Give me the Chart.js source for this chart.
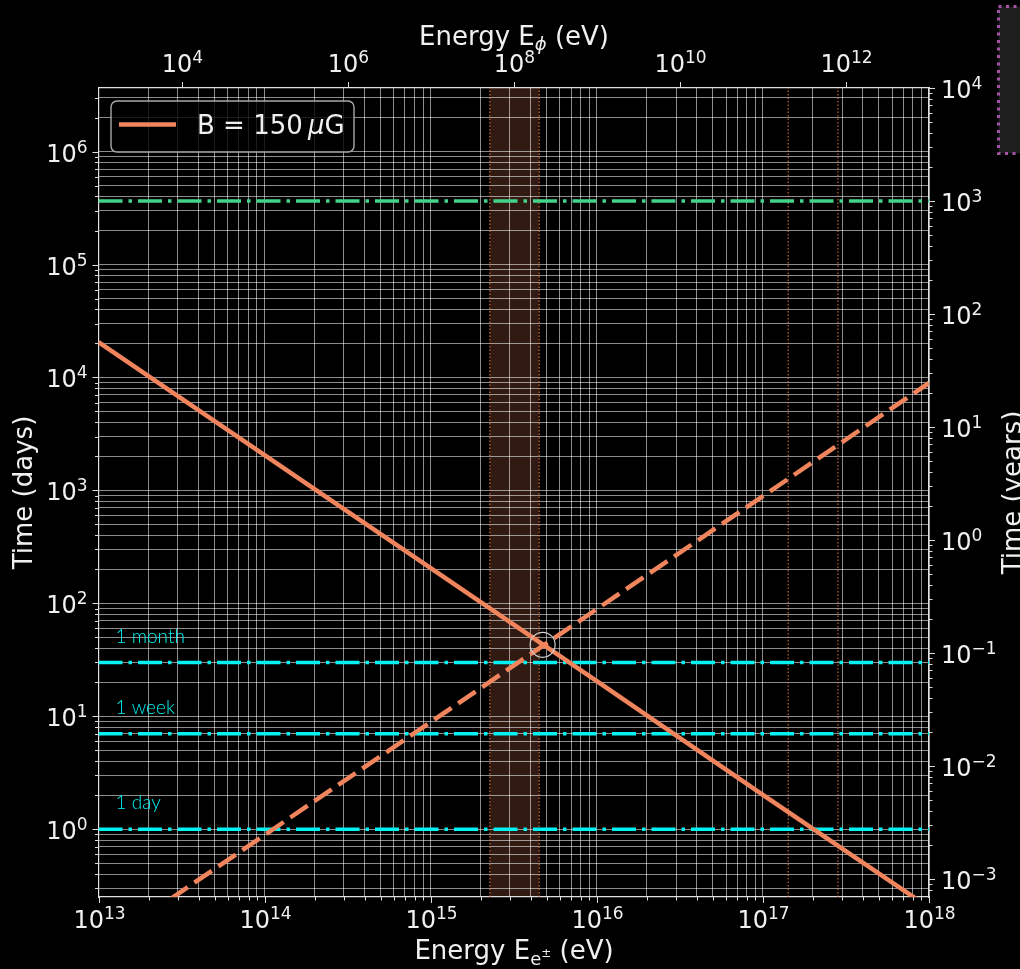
<!DOCTYPE html>
<html>
<head>
<meta charset="utf-8">
<script src="https://cdn.jsdelivr.net/npm/chart.js@4"></script>
<style>
  html, body { margin: 0; padding: 0; background: #000; }
  #wrap { width: 1020px; height: 969px; }
</style>
</head>
<body>
<div id="wrap"><canvas id="chart" width="1020" height="969"></canvas></div>
<script>
// --- values ---
const energyPts = [1e13, 1e14, 1e15, 1e16, 1e17, 1e18];      // E_e± (eV)
const coolingDays = [20600, 2050, 205, 20.5, 2.02, 0.203];     // solid line
const accelDays = [0.089, 0.89, 8.9, 89, 890, 8950];           // dashed line
const crossE = [4.72e15];
const crossDays = [43];
const bandE = [2.27e15, 4.5e15];                                // shaded band
const markerE = [2.27e15, 4.5e15, 1.42e17, 2.83e17];            // dotted verticals
const refDays = [365250, 30, 7, 1];
const refLabels = ['', '1 month', '1 week', '1 day'];
const xRange = [1e13, 1e18];
const daysRange = [0.2515, 3.6525e6];
const phiRange = [1e3, 1e13];
const DAYS_PER_YEAR = 365.25;

const CORAL = '#f0845c';
const CYAN = '#00f2f2';
const GREEN = '#43d489';
const TXT = '#f0f0f0';
const FONT = '"DejaVu Sans", sans-serif';

// helpers
function isNice(v) {
    if (!(v > 0)) return false;
    const e = Math.floor(Math.log10(v) + 1e-9);
    const m = v / Math.pow(10, e);
    const r = Math.round(m);
    return Math.abs(m - r) < 1e-6 && r >= 1 && r <= 9;
}
function isDecade(v) {
    return isNice(v) && Math.abs(Math.log10(v) - Math.round(Math.log10(v))) < 1e-6;
}

function powLabel(ctx, exp, x, y, align) {
    const sup = String(exp).replace('-', '\u2212');
    ctx.font = `24px ${FONT}`;
    const wb = ctx.measureText('10').width;
    ctx.font = `17px ${FONT}`;
    const ws = ctx.measureText(sup).width;
    const w = wb + ws;
    const x0 = align === 'center' ? x - w / 2 : align === 'right' ? x - w : x;
    ctx.textAlign = 'left';
    ctx.textBaseline = 'alphabetic';
    ctx.fillStyle = TXT;
    ctx.font = `24px ${FONT}`;
    ctx.fillText('10', x0, y);
    ctx.font = `17px ${FONT}`;
    ctx.fillText(sup, x0 + wb, y - 9);
}

// segments: [text, size, dy, italic]
function richText(ctx, segs, x, y) {
    let w = 0;
    segs.forEach(s => {
        ctx.font = `${s[3] ? 'italic ' : ''}${s[1]}px ${FONT}`;
        w += ctx.measureText(s[0]).width;
    });
    let cx = x - w / 2;
    ctx.textAlign = 'left';
    ctx.textBaseline = 'alphabetic';
    ctx.fillStyle = TXT;
    segs.forEach(s => {
        ctx.font = `${s[3] ? 'italic ' : ''}${s[1]}px ${FONT}`;
        ctx.fillText(s[0], cx, y + s[2]);
        cx += ctx.measureText(s[0]).width;
    });
}

function rotatedText(ctx, text, x, y) {
    ctx.save();
    ctx.translate(x, y);
    ctx.rotate(-Math.PI / 2);
    ctx.font = `26px ${FONT}`;
    ctx.fillStyle = TXT;
    ctx.textAlign = 'center';
    ctx.textBaseline = 'alphabetic';
    ctx.fillText(text, 0, 0);
    ctx.restore();
}

// shaded band behind the grid
const bandPlugin = {
    id: 'band',
    beforeDraw(chart) {
        const { ctx, chartArea: a, scales } = chart;
        const x0 = scales.x.getPixelForValue(bandE[0]);
        const x1 = scales.x.getPixelForValue(bandE[1]);
        ctx.save();
        ctx.fillStyle = 'rgba(240,130,90,0.2)';
        ctx.fillRect(x0, a.top, x1 - x0, a.bottom - a.top);
        ctx.restore();
    }
};

// ticks, tick labels, titles, legend, annotations
const decoPlugin = {
    id: 'deco',
    afterDraw(chart) {
        const { ctx, chartArea: a, scales } = chart;
        ctx.save();
        ctx.strokeStyle = '#dddddd';
        ctx.lineWidth = 1;

        scales.x.ticks.forEach(t => {
            if (!isNice(t.value)) return;
            const px = Math.round(scales.x.getPixelForValue(t.value)) + 0.5;
            const len = isDecade(t.value) ? 6 : 3.5;
            ctx.beginPath(); ctx.moveTo(px, a.bottom); ctx.lineTo(px, a.bottom + len); ctx.stroke();
            if (isDecade(t.value)) powLabel(ctx, Math.round(Math.log10(t.value)), px, 928, 'center');
        });
        scales.x2.ticks.forEach(t => {
            if (!isDecade(t.value)) return;
            const e = Math.round(Math.log10(t.value));
            if (e % 2 !== 0 || t.value <= phiRange[0] || t.value >= phiRange[1]) return;
            const px = Math.round(scales.x2.getPixelForValue(t.value)) + 0.5;
            ctx.beginPath(); ctx.moveTo(px, a.top); ctx.lineTo(px, a.top - 6); ctx.stroke();
            powLabel(ctx, e, px, 72, 'center');
        });
        scales.y.ticks.forEach(t => {
            if (!isNice(t.value)) return;
            const py = Math.round(scales.y.getPixelForValue(t.value)) + 0.5;
            const len = isDecade(t.value) ? 6 : 3.5;
            ctx.beginPath(); ctx.moveTo(a.left, py); ctx.lineTo(a.left - len, py); ctx.stroke();
            if (isDecade(t.value)) powLabel(ctx, Math.round(Math.log10(t.value)), a.left - 11, py + 9, 'right');
        });
        scales.y2.ticks.forEach(t => {
            if (!isNice(t.value)) return;
            const py = Math.round(scales.y2.getPixelForValue(t.value)) + 0.5;
            const len = isDecade(t.value) ? 6 : 3.5;
            ctx.beginPath(); ctx.moveTo(a.right, py); ctx.lineTo(a.right + len, py); ctx.stroke();
            if (isDecade(t.value)) powLabel(ctx, Math.round(Math.log10(t.value)), a.right + 12, py + 9, 'left');
        });

        // axis titles
        richText(ctx, [['Energy E', 26, 0], ['\u03d5', 18, 5, true], [' (eV)', 26, 0]], 514, 45);
        richText(ctx, [['Energy E', 26, 0], ['e', 18, 6], ['\u00b1', 12, -2], [' (eV)', 26, 0]], 514, 959);
        rotatedText(ctx, 'Time (days)', 32, (a.top + a.bottom) / 2);
        rotatedText(ctx, 'Time (years)', 1021, (a.top + a.bottom) / 2);

        // reference line captions
        ctx.font = '300 19px Lato, "Open Sans", sans-serif';
        ctx.fillStyle = CYAN;
        ctx.textAlign = 'left';
        ctx.textBaseline = 'alphabetic';
        refDays.forEach((d, i) => {
            if (!refLabels[i]) return;
            ctx.fillText(refLabels[i], a.left + 17, scales.y.getPixelForValue(d * 1.5));
        });

        // legend
        const lx = 111, ly = 101, lw = 243, lh = 51;
        ctx.beginPath();
        ctx.roundRect(lx, ly, lw, lh, 6);
        ctx.fillStyle = 'rgba(0,0,0,0.8)';
        ctx.fill();
        ctx.strokeStyle = '#a8a8a8';
        ctx.lineWidth = 1.4;
        ctx.stroke();
        ctx.beginPath();
        ctx.moveTo(119, 124.5); ctx.lineTo(176, 124.5);
        ctx.strokeStyle = CORAL;
        ctx.lineWidth = 4.5;
        ctx.stroke();
        ctx.fillStyle = TXT;
        ctx.textAlign = 'left';
        ctx.textBaseline = 'alphabetic';
        let tx = 197;
        [['B = 150', false], ['\u2009', false], ['\u03bc', true], ['G', false]].forEach(s => {
            ctx.font = `${s[1] ? 'italic ' : ''}26px ${FONT}`;
            ctx.fillText(s[0], tx, 134);
            tx += ctx.measureText(s[0]).width;
        });

        // cut-off inset box at the right edge
        ctx.beginPath();
        ctx.rect(998.5, 6.5, 40, 147);
        ctx.fillStyle = '#1e1e1e';
        ctx.fill();
        ctx.setLineDash([3, 4.5]);
        ctx.strokeStyle = '#a452a4';
        ctx.lineWidth = 3;
        ctx.stroke();
        ctx.setLineDash([]);
        ctx.restore();
    }
};

// --- datasets ---
const datasets = [];
datasets.push({
    data: crossE.map((e, i) => ({ x: e, y: crossDays[i] })),
    showLine: false, pointRadius: 12.5, pointStyle: 'circle',
    pointBorderColor: '#d0d0d0', pointBackgroundColor: 'rgba(0,0,0,0)', pointBorderWidth: 1.2
});
datasets.push({
    label: 'B = 150 μG',
    data: energyPts.map((e, i) => ({ x: e, y: coolingDays[i] })),
    borderColor: CORAL, borderWidth: 4.5, pointRadius: 0, clip: 0
});
datasets.push({
    data: energyPts.map((e, i) => ({ x: e, y: accelDays[i] })),
    borderColor: CORAL, borderWidth: 4.5, borderDash: [21, 8], pointRadius: 0, clip: 0
});
refDays.forEach((d, i) => {
    datasets.push({
        data: xRange.map(x => ({ x, y: d })),
        borderColor: i === 0 ? GREEN : CYAN, borderWidth: 3.5,
        borderDash: [24, 6, 3.5, 6], pointRadius: 0, clip: 0
    });
});
markerE.forEach(e => {
    datasets.push({
        data: daysRange.map(y => ({ x: e, y })),
        borderColor: '#e07a40', borderWidth: 1, borderDash: [1.5, 2], pointRadius: 0, clip: 0
    });
});

const gridColor = ctx => (ctx.tick && isNice(ctx.tick.value)) ? 'rgba(255,255,255,0.55)' : 'rgba(0,0,0,0)';
const border = { display: true, color: '#e0e0e0', width: 1.2 };

new Chart(document.getElementById('chart'), {
    type: 'line',
    data: { datasets },
    options: {
        responsive: false,
        animation: false,
        events: [],
        layout: { padding: 0 },
        plugins: { legend: { display: false }, tooltip: { enabled: false } },
        scales: {
            x: {
                type: 'logarithmic', position: 'bottom', min: xRange[0], max: xRange[1],
                ticks: { display: false },
                grid: { color: gridColor, lineWidth: 1, drawTicks: false },
                border,
                afterFit: s => { s.height = 72; }
            },
            x2: {
                type: 'logarithmic', position: 'top', min: phiRange[0], max: phiRange[1],
                ticks: { display: false },
                grid: { display: false, drawTicks: false },
                border,
                afterFit: s => { s.height = 88; }
            },
            y: {
                type: 'logarithmic', position: 'left', min: daysRange[0], max: daysRange[1],
                ticks: { display: false },
                grid: { color: gridColor, lineWidth: 1, drawTicks: false },
                border,
                afterFit: s => { s.width = 98.5; }
            },
            y2: {
                type: 'logarithmic', position: 'right',
                min: daysRange[0] / DAYS_PER_YEAR, max: daysRange[1] / DAYS_PER_YEAR,
                ticks: { display: false },
                grid: { display: false, drawTicks: false },
                border,
                afterFit: s => { s.width = 91; }
            }
        }
    },
    plugins: [bandPlugin, decoPlugin]
});
</script>
</body>
</html>
